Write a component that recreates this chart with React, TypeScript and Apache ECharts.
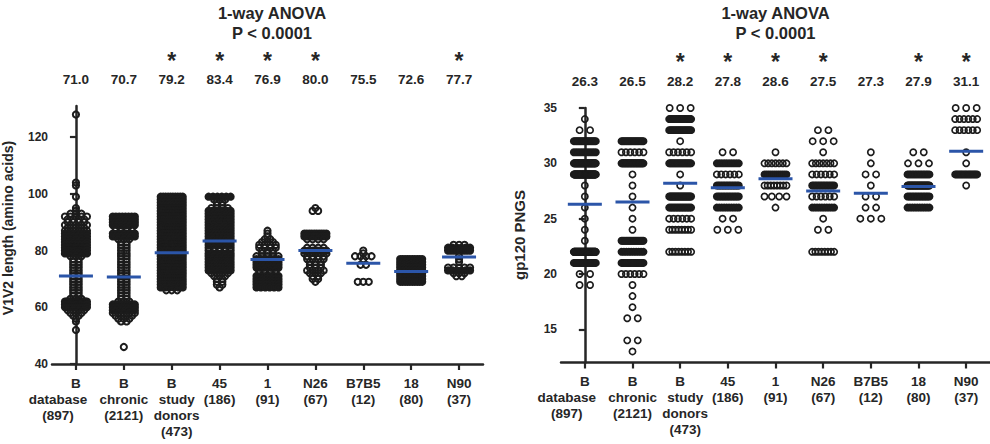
import React, { useEffect, useRef } from "react";
import * as echarts from "echarts";

// ---------- categories & summary values ----------
const categories = [
  "B\ndatabase\n(897)",
  "B\nchronic\n(2121)",
  "B\nstudy\ndonors\n(473)",
  "45\n(186)",
  "1\n(91)",
  "N26\n(67)",
  "B7B5\n(12)",
  "18\n(80)",
  "N90\n(37)",
];
const v1v2Means = [71.0, 70.7, 79.2, 83.4, 76.9, 80.0, 75.5, 72.6, 77.7];
const pngsMeans = [26.3, 26.5, 28.2, 27.8, 28.6, 27.5, 27.3, 27.9, 31.1];
const v1v2Significant = [false, false, true, true, true, true, false, false, true];
const pngsSignificant = [false, false, true, true, true, true, false, true, true];
const v1v2Ticks = [40, 60, 80, 100, 120];
const pngsTicks = [15, 20, 25, 30, 35];
const titleLines = "1-way ANOVA\nP < 0.0001";

// ---------- distributions: [value, number of sequences] ----------
// V1V2 length (amino acids)
const v1v2BDatabase = [[128,1],[104,1],[103,1],[99,1],[95,1],[94,1],[93,3],[92,5],[91,4],[90,4],[89,5],[88,4],[87,5],[86,8],[85,6],[84,5],[83,6],[82,8],[81,20],[80,25],[79,8],[78,3],[77,2],[76,2],[75,2],[74,2],[73,2],[72,2],[71,2],[70,2],[69,2],[68,2],[67,2],[66,2],[65,2],[64,2],[63,3],[62,20],[61,25],[60,12],[59,4],[58,3],[57,2],[56,1],[55,1],[52,1]];
const v1v2BChronic = [[92,8],[91,8],[90,8],[89,6],[88,4],[87,2],[86,6],[85,8],[84,3],[83,2],[82,2],[81,2],[80,2],[79,2],[78,2],[77,2],[76,2],[75,2],[74,2],[73,2],[72,2],[71,2],[70,2],[69,2],[68,2],[67,2],[66,2],[65,2],[64,2],[63,2],[62,3],[61,10],[60,14],[59,8],[58,5],[57,4],[56,3],[55,2],[46,1]];
const v1v2BStudy = [[99,10],[98,8],[97,6],[96,8],[95,12],[94,14],[93,14],[92,15],[91,14],[90,12],[89,14],[88,15],[87,14],[86,16],[85,15],[84,16],[83,14],[82,18],[81,20],[80,18],[79,16],[78,18],[77,16],[76,15],[75,14],[74,16],[73,15],[72,14],[71,13],[70,14],[69,12],[68,10],[67,6],[66,3]];
const v1v2G45 = [[99,6],[98,3],[97,2],[96,2],[95,4],[94,7],[93,6],[92,5],[91,8],[90,6],[89,5],[88,6],[87,7],[86,8],[85,7],[84,6],[83,8],[82,7],[81,5],[80,5],[79,6],[78,5],[77,6],[76,7],[75,9],[74,9],[73,7],[72,4],[71,3],[70,2],[69,2],[68,2],[67,1]];
const v1v2G1 = [[87,1],[86,1],[85,1],[84,2],[83,3],[82,4],[81,4],[80,3],[79,3],[78,5],[77,6],[76,7],[75,8],[74,7],[73,4],[72,4],[71,6],[70,8],[69,8],[68,8],[67,6]];
const v1v2N26 = [[95,1],[94,2],[86,10],[85,10],[84,4],[81,4],[80,6],[79,5],[78,4],[77,4],[76,3],[75,3],[74,3],[73,4],[72,3],[71,2],[70,2],[69,1]];
const v1v2B7B5 = [[80,1],[79,1],[78,4],[77,1],[75,2],[69,3]];
const v1v2G18 = [[77,10],[76,8],[75,6],[74,8],[73,8],[72,8],[71,8],[70,10],[69,10]];
const v1v2N90 = [[82,3],[81,6],[80,8],[78,1],[77,1],[76,1],[74,5],[73,6],[72,3],[71,2]];

// gp120 PNGS
const pngsBDatabase = [[34,1],[33,2],[32,20],[31,10],[30,40],[29,60],[28,1],[27,1],[26,1],[25,1],[24,1],[23,1],[22,70],[21,20],[20,2],[19,2]];
const pngsBChronic = [[32,20],[31,6],[30,30],[29,1],[28,1],[27,1],[26,1],[25,1],[24,1],[23,20],[22,10],[21,20],[20,6],[19,1],[18,1],[17,1],[16,2],[14,2],[13,1]];
const pngsBStudy = [[35,3],[34,20],[33,20],[32,1],[31,6],[30,20],[29,1],[28,1],[27,25],[26,15],[25,6],[24,8],[22,8]];
const pngsG45 = [[31,2],[30,10],[29,6],[28,15],[27,15],[26,10],[25,2],[24,3]];
const pngsG1 = [[31,1],[30,7],[29,12],[28,8],[27,4],[26,1]];
const pngsN26 = [[33,2],[32,3],[31,1],[30,7],[29,6],[28,15],[27,6],[26,10],[25,1],[24,2],[22,8]];
const pngsB7B5 = [[31,1],[30,1],[29,2],[28,1],[27,2],[26,2],[25,3]];
const pngsG18 = [[31,2],[30,3],[29,15],[28,30],[27,15],[26,10]];
const pngsN90 = [[35,3],[34,6],[33,6],[31,1],[30,1],[29,18],[28,1]];

const v1v2Groups = [v1v2BDatabase, v1v2BChronic, v1v2BStudy, v1v2G45, v1v2G1, v1v2N26, v1v2B7B5, v1v2G18, v1v2N90];
const pngsGroups = [pngsBDatabase, pngsBChronic, pngsBStudy, pngsG45, pngsG1, pngsN26, pngsB7B5, pngsG18, pngsN90];

// ---------- layout / style ----------
const INK = "#262626";
const DOT = "#1c1c1c";
const BLUE = "#2b55a8";
const FONT = '"Liberation Sans", Arial, Helvetica, sans-serif';

const G0 = { left: 52, top: 106, width: 431, height: 258 };
const G1 = { left: 561, top: 108, width: 429, height: 254.5 };
// horizontal nudge (rich padding) of the label lines below the first one
const labelNudge = ["l", "", "r", "", "", "", "", "", ""];

// spread points sharing a value side by side (pixel offsets -> category units)
function swarm(groups: number[][][], pxPerCat: number, sMax: number, maxOff: number, denseBelow: number) {
  const pts: any[] = [];
  groups.forEach((rows, gi) => {
    rows.forEach(([v, n]) => {
      const s = n > 1 ? Math.min(sMax, (2 * maxOff) / (n - 1)) : 0;
      const dense = n > 1 && s < denseBelow;
      for (let k = 0; k < n; k++) {
        const off = (k - (n - 1) / 2) * s;
        const item: any = { value: [gi + off / pxPerCat, v] };
        if (dense) item.itemStyle = { color: DOT };
        pts.push(item);
      }
    });
  });
  return pts;
}

const richBase = { fontSize: 13.5, fontWeight: "bold", fontFamily: FONT, color: INK, lineHeight: 16 };

function catAxis(gridIndex: number) {
  return {
    type: "category",
    gridIndex,
    data: categories,
    boundaryGap: true,
    axisLine: { show: true, lineStyle: { color: INK, width: 2.5 } },
    axisTick: { show: true, alignWithLabel: true, length: 6, lineStyle: { color: INK, width: 2.2 } },
    axisLabel: {
      interval: 0,
      color: INK,
      fontSize: 13.5,
      fontWeight: "bold",
      fontFamily: FONT,
      lineHeight: 16,
      margin: 11,
      formatter: (value: string, index: number) => {
        const tag = labelNudge[index];
        if (!tag) return value;
        const lines = value.split("\n");
        return lines.map((l, li) => (li === 0 ? `{n|${l}}` : `{${tag}|${l}}`)).join("\n");
      },
      rich: {
        n: { ...richBase },
        l: { ...richBase, padding: [0, 36, 0, 0] },
        r: { ...richBase, padding: [0, 0, 0, 10] },
      },
    },
    splitLine: { show: false },
  };
}

function valAxisX(gridIndex: number) {
  return { type: "value", gridIndex, min: -0.5, max: 8.5, show: false };
}

function valAxisY(gridIndex: number, min: number, max: number, ticks: number[]) {
  return {
    type: "value",
    gridIndex,
    min,
    max,
    axisLine: { show: true, lineStyle: { color: INK, width: 2.5 } },
    axisTick: { show: true, length: 6, customValues: ticks, lineStyle: { color: INK, width: 2.2 } },
    axisLabel: {
      customValues: ticks,
      color: INK,
      fontSize: 12,
      fontWeight: "bold",
      fontFamily: FONT,
      margin: 4,
    },
    splitLine: { show: false },
  };
}

function pointSeries(xi: number, yi: number, data: any[], size: number, bw: number) {
  return {
    type: "scatter",
    xAxisIndex: xi,
    yAxisIndex: yi,
    data,
    symbol: "circle",
    symbolSize: size,
    silent: true,
    progressive: 0,
    large: false,
    clip: false,
    itemStyle: { color: "rgba(0,0,0,0)", borderColor: DOT, borderWidth: bw, opacity: 1 },
    z: 2,
  };
}

function meanSeries(xi: number, yi: number, means: number[]) {
  return {
    type: "scatter",
    xAxisIndex: xi,
    yAxisIndex: yi,
    data: means.map((m, i) => [i, m]),
    symbol: "rect",
    symbolSize: [34, 3],
    silent: true,
    itemStyle: { color: BLUE, opacity: 1 },
    z: 5,
  };
}

function txt(text: string, x: number, y: number, size: number, lh: number, extra: any = {}) {
  return {
    type: "text",
    x,
    y,
    silent: true,
    ...extra,
    style: {
      text,
      fill: INK,
      fontSize: size,
      fontWeight: "bold",
      fontFamily: FONT,
      align: "center",
      verticalAlign: "middle",
      lineHeight: lh,
    },
  };
}

export default function App() {
  const ref = useRef<HTMLDivElement>(null);

  useEffect(() => {
    if (!ref.current) return;
    const chart = echarts.init(ref.current, null, { renderer: "svg" });

    const leftPts = swarm(v1v2Groups, G0.width / 9, 5.5, 11, 4.5);
    const rightPts = swarm(pngsGroups, G1.width / 9, 10.5, 11, 3.0);

    chart.setOption({
      animation: false,
      grid: [
        { ...G0, containLabel: false },
        { ...G1, containLabel: false },
      ],
      xAxis: [catAxis(0), catAxis(1), valAxisX(0), valAxisX(1)],
      yAxis: [valAxisY(0, 40, 131, v1v2Ticks), valAxisY(1, 12, 35, pngsTicks)],
      series: [
        pointSeries(2, 0, leftPts, 6.2, 2.0),
        meanSeries(2, 0, v1v2Means),
        pointSeries(3, 1, rightPts, 6.2, 1.7),
        meanSeries(3, 1, pngsMeans),
      ],
    });

    const graphics: any[] = [];
    graphics.push(txt(titleLines, 272, 23, 16.5, 20));
    graphics.push(txt(titleLines, 775.5, 23, 16.5, 20));
    graphics.push(txt("V1V2 length (amino acids)", 8, 228, 14, 15, { rotation: Math.PI / 2 }));
    graphics.push(txt("gp120 PNGS", 519.5, 235, 15, 16, { rotation: Math.PI / 2 }));

    v1v2Means.forEach((m, i) => {
      const x = chart.convertToPixel({ xAxisIndex: 2 } as any, i) as number;
      graphics.push(txt(m.toFixed(1), x, 79, 13.5, 14));
      if (v1v2Significant[i]) graphics.push(txt("*", x, 60.5, 23, 12));
    });
    pngsMeans.forEach((m, i) => {
      const x = chart.convertToPixel({ xAxisIndex: 3 } as any, i) as number;
      graphics.push(txt(m.toFixed(1), x, 81, 13.5, 14));
      if (pngsSignificant[i]) graphics.push(txt("*", x, 61.5, 23, 12));
    });

    chart.setOption({ graphic: graphics });

    return () => chart.dispose();
  }, []);

  return (
    <div
      ref={ref}
      style={{ position: "fixed", left: 0, top: 0, width: 990, height: 444, background: "#fff" }}
    />
  );
}
